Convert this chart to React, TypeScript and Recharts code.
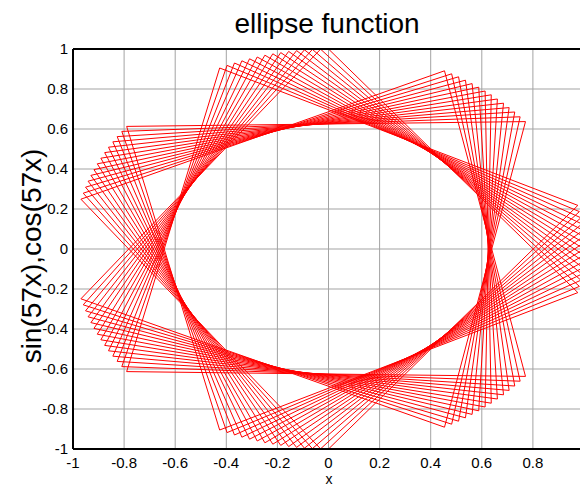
import React from "react";
import { LineChart, Line, XAxis, YAxis, CartesianGrid } from "recharts";

// points of the curve, in drawing order
const X_VALUES = [
  0, 0.976, -0.426, -0.79, 0.771, 0.454, -0.969, -0.031, 0.982, -0.397, -0.809, 0.75, 0.482, -0.96, -0.063, 0.988, -0.368,
  -0.827, 0.729, 0.509, -0.951, -0.094, 0.992, -0.339, -0.844, 0.707, 0.536, -0.941, -0.125, 0.996, -0.309, -0.861, 0.685,
  0.562, -0.93, -0.156, 0.998, -0.279, -0.876, 0.661, 0.588, -0.918, -0.187, 0.999, -0.249, -0.891, 0.637, 0.613, -0.905,
  -0.218, 1, -0.218, -0.905, 0.613, 0.637, -0.891, -0.249, 0.999, -0.187, -0.918, 0.588, 0.661, -0.876, -0.279, 0.998,
  -0.156, -0.93, 0.562, 0.685, -0.861, -0.309, 0.996, -0.125, -0.941, 0.536, 0.707, -0.844, -0.339, 0.992, -0.094, -0.951,
  0.509, 0.729, -0.827, -0.368, 0.988, -0.063, -0.96, 0.482, 0.75, -0.809, -0.397, 0.982, -0.031, -0.969, 0.454, 0.771,
  -0.79, -0.426, 0.976, 0,
];
const Y_VALUES = [
  -1, 0.218, 0.905, -0.613, -0.637, 0.891, 0.249, -0.999, 0.187, 0.918, -0.588, -0.661, 0.876, 0.279, -0.998, 0.156, 0.93,
  -0.562, -0.685, 0.861, 0.309, -0.996, 0.125, 0.941, -0.536, -0.707, 0.844, 0.339, -0.992, 0.094, 0.951, -0.509, -0.729,
  0.827, 0.368, -0.988, 0.063, 0.96, -0.482, -0.75, 0.809, 0.397, -0.982, 0.031, 0.969, -0.454, -0.771, 0.79, 0.426,
  -0.976, 0, 0.976, -0.426, -0.79, 0.771, 0.454, -0.969, -0.031, 0.982, -0.397, -0.809, 0.75, 0.482, -0.96, -0.063, 0.988,
  -0.368, -0.827, 0.729, 0.509, -0.951, -0.094, 0.992, -0.339, -0.844, 0.707, 0.536, -0.941, -0.125, 0.996, -0.309,
  -0.861, 0.685, 0.562, -0.93, -0.156, 0.998, -0.279, -0.876, 0.661, 0.588, -0.918, -0.187, 0.999, -0.249, -0.891, 0.637,
  0.613, -0.905, -0.218, 1,
];
const X_TICKS = [-1, -0.8, -0.6, -0.4, -0.2, 0, 0.2, 0.4, 0.6, 0.8, 1];
const Y_TICKS = [-1, -0.8, -0.6, -0.4, -0.2, 0, 0.2, 0.4, 0.6, 0.8, 1];

const data = X_VALUES.map((x, i) => ({ x, y: Y_VALUES[i] }));

const FONT = "'Liberation Sans', Arial, sans-serif";
const tickStyle = { fontSize: 15, fill: "#000", fontFamily: FONT };
const frame = { stroke: "#000", strokeWidth: 2 };

// the "1" label at the right end falls outside the cropped picture
const xTickFmt = (v: number) => (v === 1 ? "" : String(v));

export default function App() {
  return (
    <div style={{ position: "absolute", left: 0, top: 0, width: 580, height: 486, overflow: "hidden", background: "#fff" }}>
      <LineChart width={600} height={486} data={data} margin={{ top: 49, right: 16, bottom: 0, left: 0 }}>
        <CartesianGrid stroke="#a3a3a3" />
        <XAxis
          dataKey="x"
          type="number"
          domain={[-1, 1]}
          ticks={X_TICKS}
          allowDataOverflow
          height={37}
          tickLine={false}
          tickSize={0}
          tickMargin={8}
          tick={tickStyle}
          tickFormatter={xTickFmt}
          axisLine={frame}
        />
        <XAxis xAxisId="bt" dataKey="x" type="number" domain={[-1, 1]} ticks={X_TICKS} allowDataOverflow mirror tick={false} tickSize={5} axisLine={false} tickLine={{ stroke: "#000" }} />
        <XAxis xAxisId="top" orientation="top" dataKey="x" type="number" domain={[-1, 1]} ticks={X_TICKS} allowDataOverflow mirror tick={false} tickSize={5} axisLine={frame} tickLine={{ stroke: "#000" }} />
        <YAxis
          dataKey="y"
          type="number"
          domain={[-1, 1]}
          ticks={Y_TICKS}
          allowDataOverflow
          width={73}
          tickLine={false}
          tickSize={0}
          tickMargin={5}
          tick={tickStyle}
          axisLine={frame}
        />
        <YAxis yAxisId="lt" dataKey="y" type="number" domain={[-1, 1]} ticks={Y_TICKS} allowDataOverflow mirror tick={false} tickSize={5} axisLine={false} tickLine={{ stroke: "#000" }} />
        <YAxis yAxisId="right" orientation="right" dataKey="y" type="number" domain={[-1, 1]} ticks={Y_TICKS} allowDataOverflow mirror tick={false} tickSize={5} axisLine={frame} tickLine={{ stroke: "#000" }} />
        <Line dataKey="y" type="linear" stroke="#ff0000" strokeWidth={1} dot={false} isAnimationActive={false} />
      </LineChart>
      <svg width={580} height={486} style={{ position: "absolute", left: 0, top: 0, pointerEvents: "none" }}>
        <text x={327} y={33} textAnchor="middle" fontSize={28} fontFamily={FONT} fill="#000">
          ellipse function
        </text>
        <text x={41} y={256} textAnchor="middle" fontSize={28} fontFamily={FONT} fill="#000" transform="rotate(-90 41 256)">
          sin(57x),cos(57x)
        </text>
        <text x={329} y={484} textAnchor="middle" fontSize={14} fontFamily={FONT} fill="#000">
          x
        </text>
      </svg>
    </div>
  );
}
